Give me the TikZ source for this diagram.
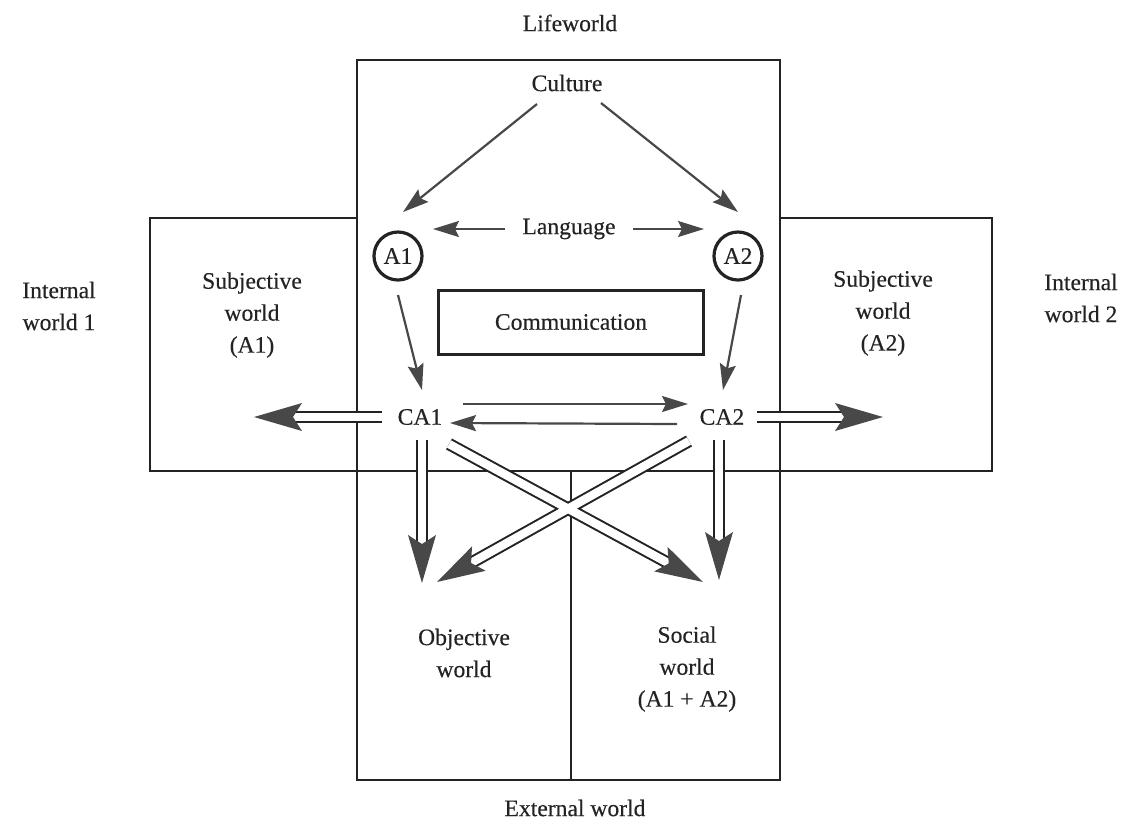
\documentclass[tikz,border=0pt]{standalone}
\usepackage{fontspec}
\setmainfont{Liberation Serif}[FakeBold=0.35]
\usetikzlibrary{arrows.meta,calc}
\definecolor{ink}{RGB}{35,35,35}
\definecolor{headgray}{RGB}{72,72,72}
\newcommand\dblarrowhead[2]{\fill[headgray] (#2) -- ($(#2)!24pt!(#1)!7pt!90:(#1)$) -- ($(#2)!19.5pt!(#1)$) -- ($(#2)!24pt!(#1)!7pt!-90:(#1)$) -- cycle;}
\begin{document}
\begin{tikzpicture}[x=0.5pt,y=-0.5pt,
  every node/.style={font=\fontsize{11.8pt}{16pt}\selectfont, text=ink},
  frame/.style={draw=ink,line width=1.3pt},
  lbl/.style={align=center,inner sep=0pt},
  agent/.style={circle,draw=ink,line width=1.6pt,minimum size=24pt,inner sep=0pt},
  commbox/.style={draw=ink,line width=1.5pt,minimum width=132.5pt,minimum height=32pt},
  arr/.style={draw=headgray,line width=1.1pt,-{Stealth[length=13pt,width=8pt,inset=2pt]}},
  dbl/.style={draw=ink,line width=1pt,double=white,double distance=4.2pt},
]
\useasboundingbox (0,0) rectangle (1136,821);

% frames
\draw[frame] (357,60) rectangle (780,780);
\draw[frame] (357,218) -- (150,218) -- (150,471) -- (992,471) -- (992,218) -- (780,218);
\draw[frame] (571,471) -- (571,780);

% labels
\node[lbl] (lifeworld) at (570,23) {Lifeworld};
\node[lbl] (external) at (575,808) {External world};
\node[lbl] (culture) at (567,83) {Culture};
\node[lbl] (language) at (569,229) {Language};
\node[agent] (A1) at (398,256) {A1};
\node[agent] (A2) at (738,256) {A2};
\node[commbox] (comm) at (571,322) {Communication};
\node[lbl] (CA1) at (420,417) {CA1};
\node[lbl] (CA2) at (722,417) {CA2};
\node[lbl] (int1) at (59,306) {Internal\\world 1};
\node[lbl] (int2) at (1081,298) {Internal\\world 2};
\node[lbl] (subj1) at (252,315) {Subjective\\world\\(A1)};
\node[lbl] (subj2) at (883,313) {Subjective\\world\\(A2)};
\node[lbl] (obj) at (464,653) {Objective\\world};
\node[lbl] (soc) at (687,669) {Social\\world\\(A1 + A2)};

% thin arrows
\draw[arr] ([shift={(-30,21)}]culture.center) -- ([shift={(5,-44)}]A1.center);
\draw[arr] ([shift={(34,20)}]culture.center) -- ([shift={(0,-44)}]A2.center);
\draw[arr] ([shift={(-64,0)}]language.center) -- ([shift={(35,-27)}]A1.center);
\draw[arr] ([shift={(64,0)}]language.center) -- ([shift={(-34,-27)}]A2.center);
\draw[arr] ([shift={(0,39)}]A1.center) -- ([shift={(2,-27)}]CA1.center);
\draw[arr] ([shift={(3,39)}]A2.center) -- ([shift={(1,-27)}]CA2.center);
\draw[arr] ([shift={(43,-13)}]CA1.center) -- ([shift={(-34,-13)}]CA2.center);
\draw[arr] ([shift={(-45,7)}]CA2.center) -- ([shift={(30,6)}]CA1.center);

% double arrows: endpoints
\coordinate (ls) at ([shift={(-38,0)}]CA1.center);
\coordinate (le) at (254,417);
\coordinate (rs) at ([shift={(35,0)}]CA2.center);
\coordinate (re) at (883,417);
\coordinate (d1s) at ([shift={(2,23)}]CA1.center);
\coordinate (d1e) at (422,583);
\coordinate (d2s) at ([shift={(-3,23)}]CA2.center);
\coordinate (d2e) at (719,580);
\coordinate (x1s) at ([shift={(29,27)}]CA1.center);
\coordinate (x1e) at (703,582);
\coordinate (x2s) at ([shift={(-33,24)}]CA2.center);
\coordinate (x2e) at (437,582);

\draw[dbl] (ls) -- ($(le)!19.5pt!(ls)$);
\draw[dbl] (rs) -- ($(re)!19.5pt!(rs)$);
\draw[dbl] (d1s) -- ($(d1e)!19.5pt!(d1s)$);
\draw[dbl] (d2s) -- ($(d2e)!19.5pt!(d2s)$);
\draw[dbl] (x1s) -- ($(x1e)!19.5pt!(x1s)$) (x2s) -- ($(x2e)!19.5pt!(x2s)$);

\dblarrowhead{ls}{le}
\dblarrowhead{rs}{re}
\dblarrowhead{d1s}{d1e}
\dblarrowhead{d2s}{d2e}
\dblarrowhead{x1s}{x1e}
\dblarrowhead{x2s}{x2e}
\end{tikzpicture}
\end{document}
